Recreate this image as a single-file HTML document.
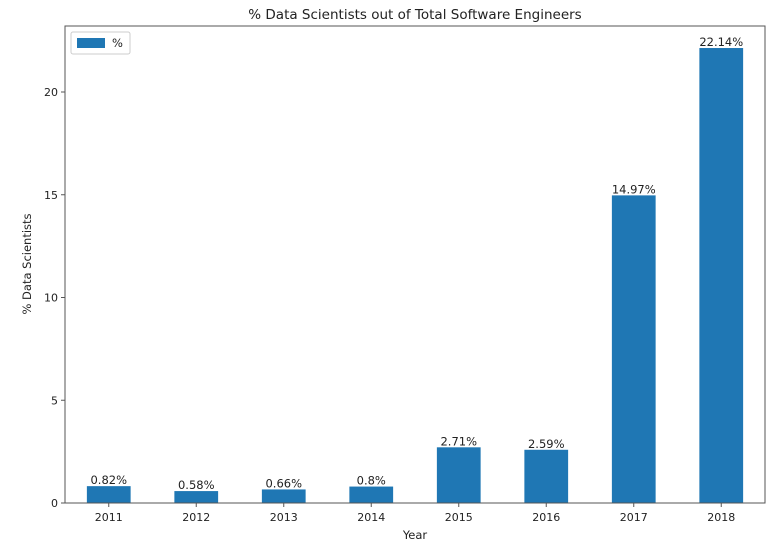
<!DOCTYPE html>
<html><head><meta charset="utf-8"><style>
body{margin:0;background:#fff;font-family:"Liberation Sans","DejaVu Sans",sans-serif;}
svg text{font-family:"DejaVu Sans","Liberation Sans",sans-serif;fill:#222;}
</style></head><body>
<svg id="chart" width="780" height="549" xmlns="http://www.w3.org/2000/svg">
<rect width="780" height="549" fill="#fff"/>
<text x="415" y="19" font-size="13.5" text-anchor="middle">% Data Scientists out of Total Software Engineers</text>
<g id="yticks"></g><g id="xticks"></g><g id="bars"></g>
<rect x="65" y="26" width="700" height="477" fill="none" stroke="#555" stroke-width="1"/>
<text x="415" y="539" font-size="11.5" text-anchor="middle">Year</text>
<text transform="translate(31,264) rotate(-90)" font-size="11.5" text-anchor="middle">% Data Scientists</text>
<g>
<rect x="71" y="32" width="59" height="22" fill="#fff" stroke="#ccc" rx="2"/>
<rect x="77" y="38" width="28" height="10" fill="#1f77b4"/>
<text x="112" y="47" font-size="11.5">%</text>
</g>
</svg>
<script>
const categories=["2011","2012","2013","2014","2015","2016","2017","2018"];
const values=[0.82,0.58,0.66,0.8,2.71,2.59,14.97,22.14];
const labels=["0.82%","0.58%","0.66%","0.8%","2.71%","2.59%","14.97%","22.14%"];
const yTicks=[0,5,10,15,20];
const NS="http://www.w3.org/2000/svg";
const L=65,R=765,B=503,PX=20.55;
const step=(R-L)/categories.length;
const x=i=>L+step*(i+0.5);
const y=v=>B-v*PX;
function mk(tag,attrs,parent){const e=document.createElementNS(NS,tag);for(const k in attrs)e.setAttribute(k,attrs[k]);parent.appendChild(e);return e;}
const yt=document.getElementById('yticks'),xt=document.getElementById('xticks'),bg=document.getElementById('bars');
yTicks.forEach(t=>{
 const l=mk('line',{x1:L-4,x2:L,y1:y(t),y2:y(t),stroke:'#555'},yt);
 
 
 const tx=mk('text',{x:L-7,y:y(t)+4,'font-size':11,'text-anchor':'end'},yt);tx.textContent=t;
 
 
});
categories.forEach((c,i)=>{
 const l=mk('line',{x1:x(i),x2:x(i),y1:B,y2:B+4,stroke:'#555'},xt);
 
 
 const tx=mk('text',{x:x(i),y:B+18,'font-size':11,'text-anchor':'middle'},xt);tx.textContent=c;
 
 
 const w=step*0.5;
 const r=mk('rect',{x:x(i)-w/2,y:y(values[i]),width:w,height:B-y(values[i]),fill:'#1f77b4'},bg);
 
 
 const v=mk('text',{x:x(i),y:y(values[i])-2,'font-size':11.5,'text-anchor':'middle'},bg);v.textContent=labels[i];
 
 
});
</script>
</body></html>
